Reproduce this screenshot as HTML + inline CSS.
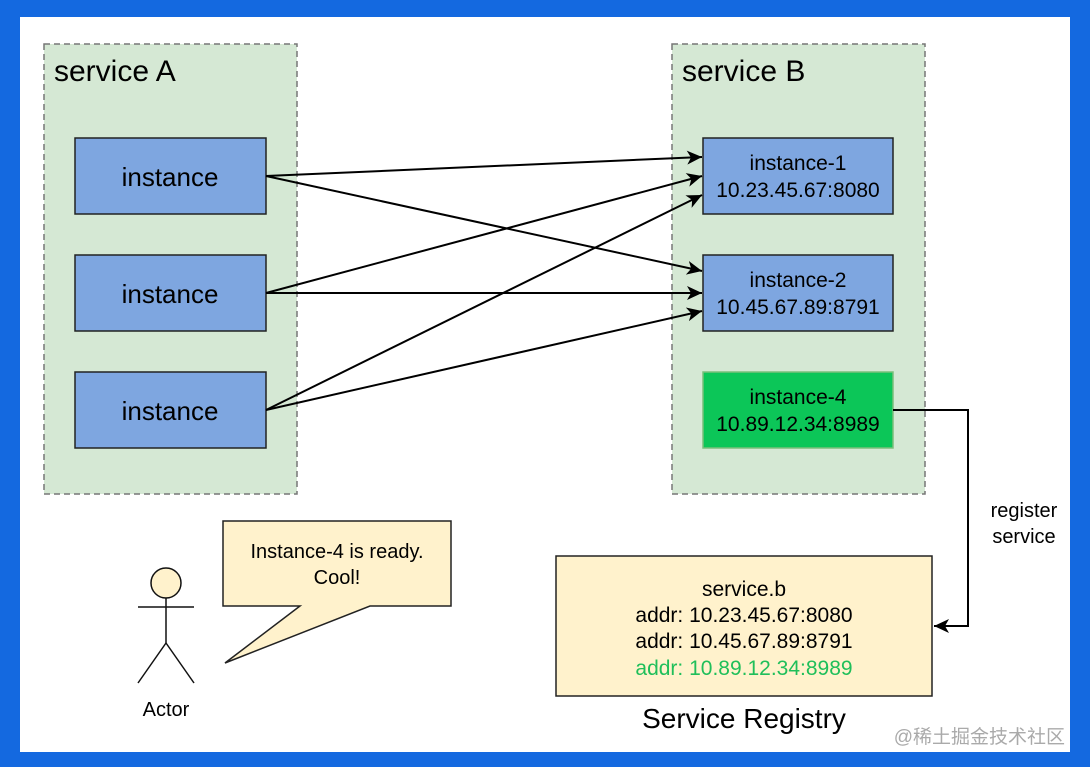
<!DOCTYPE html>
<html><head><meta charset="utf-8"><style>
body{margin:0;background:#1469e0;}
svg{display:block}
text{font-family:"Liberation Sans","Noto Sans CJK SC",sans-serif;}
</style></head><body>
<svg width="1090" height="767" viewBox="0 0 1090 767">
<defs><marker id="a" markerWidth="16" markerHeight="16" refX="15" refY="8" orient="auto" markerUnits="userSpaceOnUse"><path d="M0,1 L15,8 L0,15 L4,8 Z" fill="#000"/></marker></defs>
<rect x="0" y="0" width="1090" height="767" fill="#1469e0"/>
<rect x="20" y="17" width="1050" height="735" fill="#fff"/>
<rect x="44" y="44" width="253" height="450" fill="#d5e8d4" stroke="#777" stroke-width="1.5" stroke-dasharray="6,4"/>
<rect x="672" y="44" width="253" height="450" fill="#d5e8d4" stroke="#777" stroke-width="1.5" stroke-dasharray="6,4"/>
<text x="54" y="81" font-size="30">service A</text>
<text x="682" y="81" font-size="30">service B</text>
<g fill="#7ea6e0" stroke="#222" stroke-width="1.5">
<rect x="75" y="138" width="191" height="76"/><rect x="75" y="255" width="191" height="76"/><rect x="75" y="372" width="191" height="76"/>
<rect x="703" y="138" width="190" height="76"/><rect x="703" y="255" width="190" height="76"/>
</g>
<rect x="703" y="372" width="190" height="76" fill="#0cc658" stroke="#7bbf7b" stroke-width="1.5"/>
<g font-size="26" text-anchor="middle"><text x="170" y="186">instance</text><text x="170" y="303">instance</text><text x="170" y="420">instance</text></g>
<g font-size="21" text-anchor="middle">
<text x="798" y="170">instance-1</text><text x="798" y="197">10.23.45.67:8080</text>
<text x="798" y="287">instance-2</text><text x="798" y="314">10.45.67.89:8791</text>
<text x="798" y="404">instance-4</text><text x="798" y="431">10.89.12.34:8989</text>
</g>
<g stroke="#000" stroke-width="2" fill="none" marker-end="url(#a)">
<line x1="266" y1="176" x2="702" y2="157"/><line x1="266" y1="176" x2="702" y2="271"/>
<line x1="266" y1="293" x2="702" y2="176"/><line x1="266" y1="293" x2="702" y2="293"/>
<line x1="266" y1="410" x2="702" y2="195"/><line x1="266" y1="410" x2="702" y2="311"/>
<polyline points="893,410 968,410 968,626 934,626"/>
</g>
<text x="1024" y="517" font-size="20" text-anchor="middle">register</text>
<text x="1024" y="543" font-size="20" text-anchor="middle">service</text>
<rect x="556" y="556" width="376" height="140" fill="#fff2cc" stroke="#222" stroke-width="1.5"/>
<g font-size="21" text-anchor="middle">
<text x="744" y="596">service.b</text><text x="744" y="622">addr: 10.23.45.67:8080</text><text x="744" y="648">addr: 10.45.67.89:8791</text><text x="744" y="675" fill="#1fbf5a">addr: 10.89.12.34:8989</text>
</g>
<text x="744" y="728" font-size="28" text-anchor="middle">Service Registry</text>
<path d="M223,521 H451 V606 H370 L225,663 L300,606 H223 Z" fill="#fff2cc" stroke="#222" stroke-width="1.5"/>
<text x="337" y="558" font-size="20" text-anchor="middle">Instance-4 is ready.</text>
<text x="337" y="584" font-size="20" text-anchor="middle">Cool!</text>
<g stroke="#111" stroke-width="1.5" fill="none">
<circle cx="166" cy="583" r="15" fill="#fff2cc"/>
<line x1="166" y1="598" x2="166" y2="643"/><line x1="138" y1="607" x2="194" y2="607"/>
<line x1="166" y1="643" x2="138" y2="683"/><line x1="166" y1="643" x2="194" y2="683"/>
</g>
<text x="166" y="716" font-size="20" text-anchor="middle">Actor</text>
<text x="1065" y="743" font-size="19" text-anchor="end" fill="#aaa">@稀土掘金技术社区</text>
</svg>
</body></html>
